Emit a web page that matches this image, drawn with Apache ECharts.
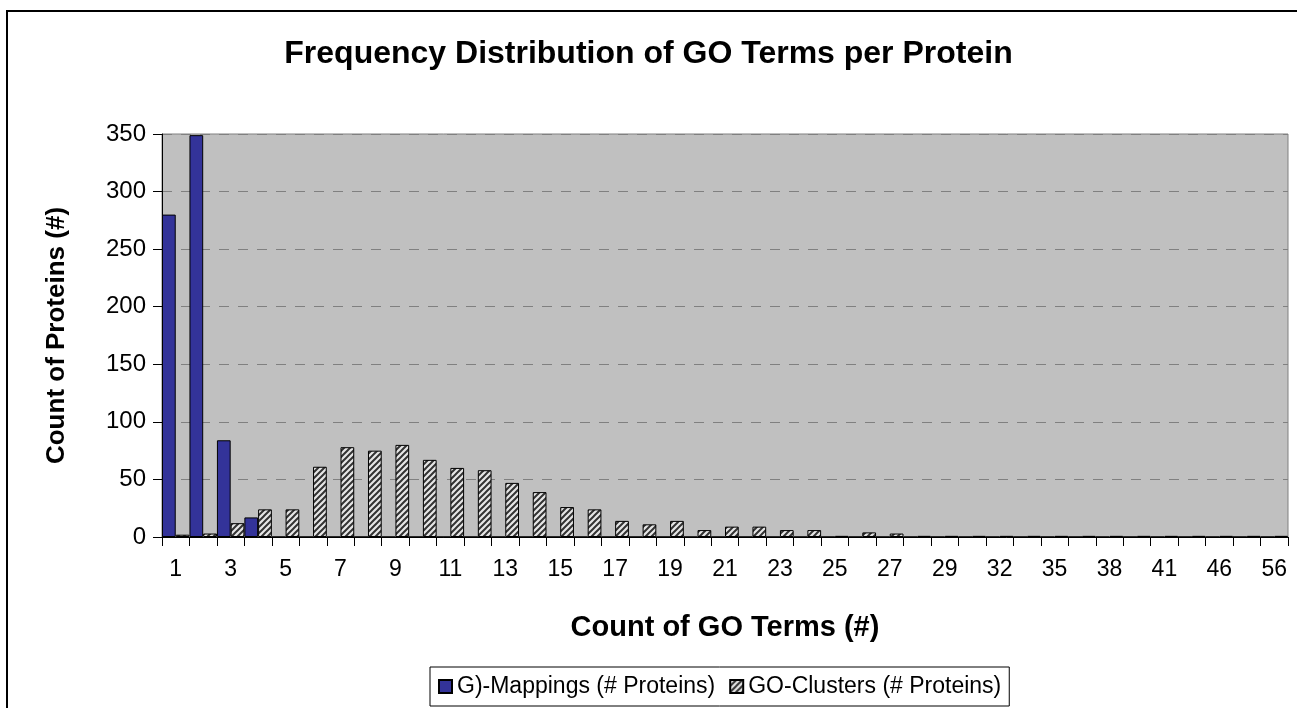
<!DOCTYPE html>
<html>
<head>
<meta charset="utf-8">
<script src="https://cdn.jsdelivr.net/npm/echarts@6/dist/echarts.min.js"></script>
<style>
  html, body { margin: 0; padding: 0; background: #fff; }
  #chart { width: 1297px; height: 708px; }
</style>
</head>
<body>
<div id="chart"></div>
<script>
const titleText = 'Frequency Distribution of GO Terms per Protein';
const xAxisName = 'Count of GO Terms (#)';
const yAxisName = 'Count of Proteins (#)';
const seriesNames = ['G)-Mappings (# Proteins)', 'GO-Clusters (# Proteins)'];
const categories = ['1','2','3','4','5','6','7','8','9','10','11','12','13','14','15','16','17','18','19','20',
  '21','22','23','24','25','26','27','28','29','31','32','34','35','37','38','40','41','44','46','51','56'];
const mappings = [280, 349, 84, 17, 0, 0, 0, 0, 0, 0, 0, 0, 0, 0, 0, 0, 0, 0, 0, 0,
  0, 0, 0, 0, 0, 0, 0, 0, 0, 0, 0, 0, 0, 0, 0, 0, 0, 0, 0, 0, 0];
const clusters = [2, 3, 12, 24, 24, 61, 78, 75, 80, 67, 60, 58, 47, 39, 26, 24, 14, 11, 14, 6,
  9, 9, 6, 6, 1, 4, 3, 1, 1, 1, 1, 1, 1, 1, 1, 1, 1, 1, 1, 1, 1];
const yTicks = { min: 0, max: 350, interval: 50 };

function makeHatch() {
  const c = document.createElement('canvas');
  const s = 6;
  c.width = s; c.height = s;
  const g = c.getContext('2d');
  g.fillStyle = '#e6e6e6';
  g.fillRect(0, 0, s, s);
  g.strokeStyle = '#333333';
  g.lineWidth = 2;
  g.beginPath();
  g.moveTo(-1, s + 1); g.lineTo(s + 1, -1);
  g.moveTo(-1, 1); g.lineTo(1, -1);
  g.moveTo(s - 1, s + 1); g.lineTo(s + 1, s - 1);
  g.stroke();
  return c;
}
const hatch = { image: makeHatch(), repeat: 'repeat' };

const chart = echarts.init(document.getElementById('chart'), null, { renderer: 'canvas' });
const font = '"Liberation Sans", Arial, sans-serif';
chart.setOption({
  animation: false,
  backgroundColor: '#ffffff',
  textStyle: { fontFamily: font, color: '#000' },
  title: {
    text: titleText,
    left: 'center',
    top: 33,
    textStyle: { fontFamily: font, fontSize: 32, fontWeight: 'bold', color: '#000' }
  },
  graphic: [{
    type: 'rect', silent: true, z: -1,
    shape: { x: 7, y: 11, width: 1300, height: 720 },
    style: { fill: 'none', stroke: '#000', lineWidth: 2 }
  }],
  legend: {
    data: seriesNames,
    left: 430, top: 667,
    itemWidth: 13, itemHeight: 13, itemGap: 14,
    padding: [8, 8, 8, 8],
    borderColor: '#000', borderWidth: 1,
    backgroundColor: '#fff',
    textStyle: { fontFamily: font, fontSize: 23, color: '#000' },
    icon: 'rect'
  },
  grid: {
    left: 162, right: 9, top: 134, bottom: 171,
    show: true, backgroundColor: '#c0c0c0', borderColor: '#808080', borderWidth: 1
  },
  xAxis: {
    type: 'category',
    data: categories,
    name: xAxisName,
    nameLocation: 'middle',
    nameGap: 76,
    nameTextStyle: { fontFamily: font, fontSize: 29, fontWeight: 'bold', color: '#000' },
    axisLine: { show: true, lineStyle: { color: '#000', width: 1 } },
    axisTick: { show: true, interval: 0, length: 9, lineStyle: { color: '#000' } },
    axisLabel: { interval: 1, margin: 21, fontFamily: font, fontSize: 23, color: '#000' },
    splitLine: { show: false }
  },
  yAxis: {
    type: 'value',
    min: yTicks.min, max: yTicks.max, interval: yTicks.interval,
    name: yAxisName,
    nameLocation: 'middle',
    nameGap: 92,
    nameTextStyle: { fontFamily: font, fontSize: 26, fontWeight: 'bold', color: '#000' },
    axisLine: { show: true, lineStyle: { color: '#000', width: 1 } },
    axisTick: { show: true, length: 9, lineStyle: { color: '#000' } },
    axisLabel: { margin: 16, fontFamily: font, fontSize: 24, color: '#000' },
    splitLine: { show: true, lineStyle: { color: '#808080', type: [10, 9], width: 1 } }
  },
  series: [
    {
      name: seriesNames[0], type: 'bar', data: mappings,
      barGap: '0%', barCategoryGap: '0%',
      itemStyle: { color: '#333399', borderColor: '#000', borderWidth: 1 }
    },
    {
      name: seriesNames[1], type: 'bar', data: clusters,
      barGap: '0%', barCategoryGap: '0%',
      itemStyle: { color: hatch, borderColor: '#000', borderWidth: 1 }
    }
  ]
});
</script>
</body>
</html>
